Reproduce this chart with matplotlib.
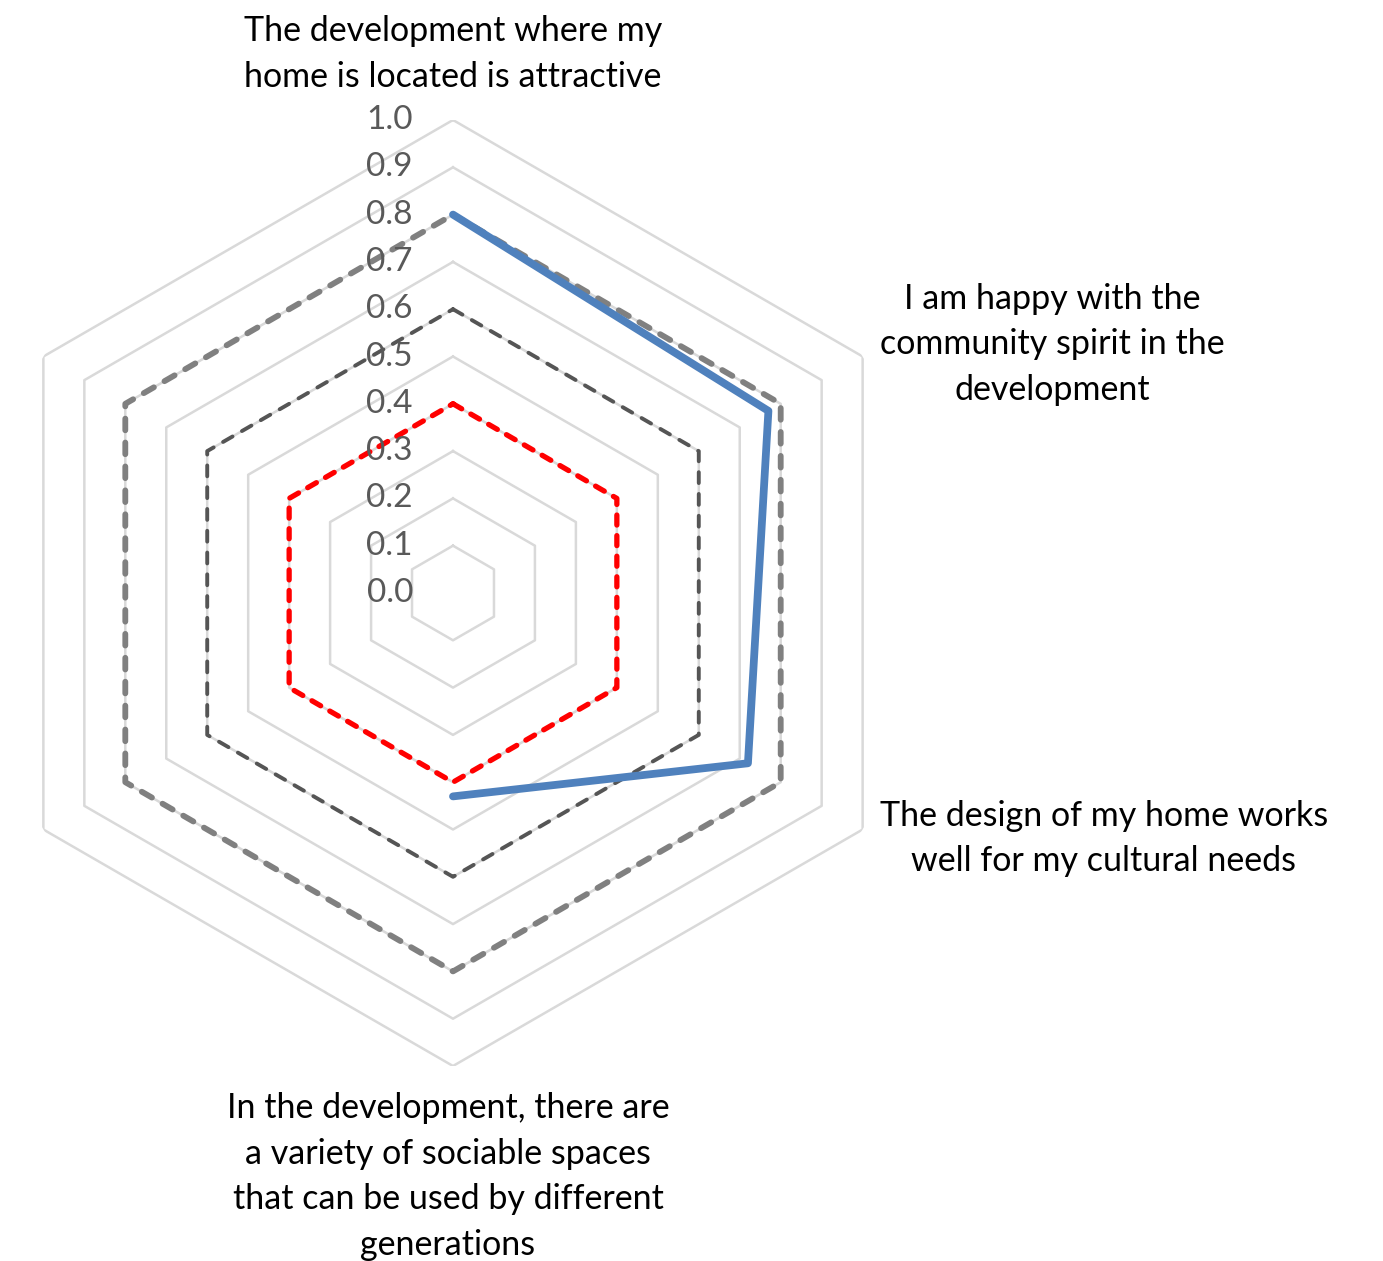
import numpy as np
import matplotlib
matplotlib.use("Agg")
import matplotlib.pyplot as plt
from matplotlib.transforms import ScaledTranslation

categories = [
    "The development where my\nhome is located is attractive",
    "I am happy with the\ncommunity spirit in the\ndevelopment",
    "The design of my home works\nwell for my cultural needs",
    "In the development, there are\na variety of sociable spaces\nthat can be used by different\ngenerations",
    "",
    "",
]
blue_vals = [0.80, 0.77, 0.72, 0.43, np.nan, np.nan]
grey_vals = [0.8, 0.8, 0.8, 0.8, 0.8, 0.8]
dark_vals = [0.6, 0.6, 0.6, 0.6, 0.6, 0.6]
red_vals = [0.4, 0.4, 0.4, 0.4, 0.4, 0.4]
ticks = [0.0, 0.1, 0.2, 0.3, 0.4, 0.5, 0.6, 0.7, 0.8, 0.9, 1.0]

plt.rcParams['font.family'] = ['Lato', 'DejaVu Sans']

fig = plt.figure(figsize=(13.83, 12.61), dpi=100)
cx, cy, R = 453 / 1383, 1 - 593 / 1261, 473
ax = fig.add_axes([cx - R / 1383, cy - R / 1261, 2 * R / 1383, 2 * R / 1261], projection='polar')
ax.set_theta_offset(np.pi / 2)
ax.set_theta_direction(-1)
ax.set_ylim(0, 1.0)
ax.grid(False)
ax.spines['polar'].set_visible(False)
ax.set_xticks([])
ax.set_yticks([])
ax.patch.set_alpha(0)

n = len(categories)
theta = np.arange(n) * 2 * np.pi / n
theta_c = np.append(theta, theta[0])

def closed(v):
    return np.append(v, v[0])

for t in ticks[1:]:
    ax.plot(theta_c, [t] * (n + 1), color='#D9D9D9', lw=1.8, zorder=1)

ax.plot(theta_c, closed(red_vals), color='#FF0000', lw=3.8, dashes=(1.9, 2.0),
        dash_capstyle='round', zorder=3)
ax.plot(theta_c, closed(dark_vals), color='#555555', lw=2.8, dashes=(2.8, 2.8),
        dash_capstyle='round', zorder=3)
ax.plot(theta_c, closed(grey_vals), color='#808080', lw=4.2, dashes=(2.0, 2.1),
        dash_capstyle='round', zorder=3)
ax.plot(theta, blue_vals, color='#4F81BD', lw=5.6, solid_joinstyle='round',
        solid_capstyle='round', zorder=4)

off = ScaledTranslation(-0.40, 0, fig.dpi_scale_trans)
for t in ticks:
    ax.text(0, t, f"{t:.1f}", transform=ax.transData + off, ha='right', va='center',
            fontsize=24, color='#595959', zorder=5)

fs = 24.5
def lbl(i, dx, dy, ha, va):
    tr = ax.transData + ScaledTranslation(dx / 100, dy / 100, fig.dpi_scale_trans)
    ax.text(theta[i], 1.0, categories[i], transform=tr, ha=ha, va=va,
            multialignment='center', fontsize=fs, color='black', linespacing=1.52)

lbl(0, 0, 27, 'center', 'bottom')
lbl(1, 17, 12, 'left', 'center')
lbl(2, 17, -9, 'left', 'center')
lbl(3, -5, -26, 'center', 'top')

fig.savefig('out.png', dpi=100)
